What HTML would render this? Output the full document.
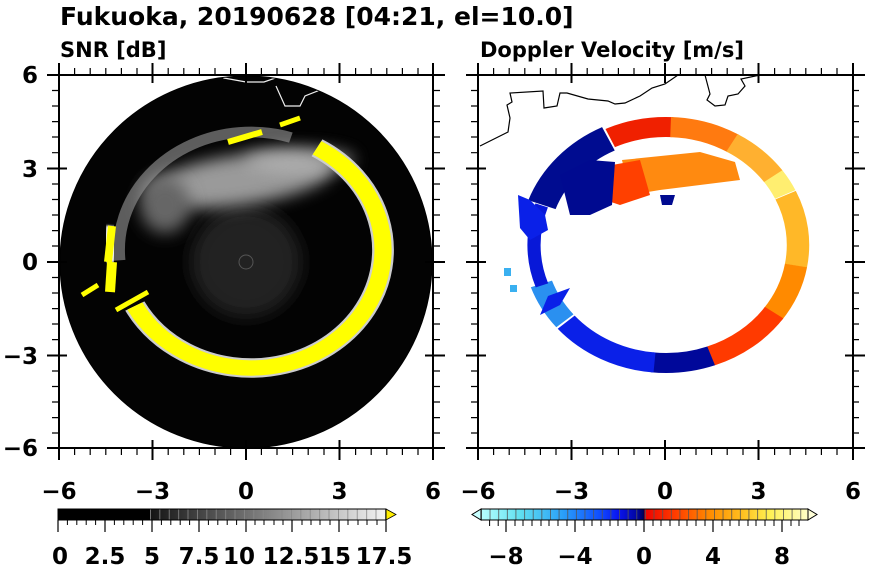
<!DOCTYPE html>
<html><head><meta charset="utf-8"><style>
html,body{margin:0;padding:0;background:#fff;}
svg{display:block;font-family:"DejaVu Sans","Liberation Sans",sans-serif;font-weight:bold;}
</style></head><body>
<svg width="870" height="570" viewBox="0 0 870 570" xmlns="http://www.w3.org/2000/svg">
<defs>
<clipPath id="cl"><circle cx="246" cy="262" r="186"/></clipPath>
<clipPath id="cr"><rect x="478" y="75" width="375" height="373"/></clipPath>
<filter id="b6" x="-100%" y="-200%" width="300%" height="500%"><feGaussianBlur stdDeviation="8"/></filter>
<filter id="b1" x="-50%" y="-50%" width="200%" height="200%"><feGaussianBlur stdDeviation="1"/></filter>
<linearGradient id="gs" x1="0" x2="1"><stop offset="0" stop-color="#141414"/><stop offset="1" stop-color="#f4f4f4"/></linearGradient>
<linearGradient id="gv" x1="0" x2="1">
<stop offset="0" stop-color="#b8ffff"/><stop offset="0.12" stop-color="#60e0f0"/><stop offset="0.25" stop-color="#2aa0f8"/><stop offset="0.36" stop-color="#1050ff"/><stop offset="0.42" stop-color="#0a14f0"/><stop offset="0.48" stop-color="#00049a"/><stop offset="0.5" stop-color="#000048"/>
<stop offset="0.5" stop-color="#ee0000"/><stop offset="0.6" stop-color="#ff4000"/><stop offset="0.7" stop-color="#ff8c00"/><stop offset="0.8" stop-color="#ffc020"/><stop offset="0.88" stop-color="#fff050"/><stop offset="1" stop-color="#ffffc8"/></linearGradient>
<pattern id="pl" x="150" y="0" width="9.4" height="20" patternUnits="userSpaceOnUse"><rect x="0" y="0" width="0.8" height="20" fill="#888"/></pattern>
<pattern id="pr" x="481" y="0" width="8.63" height="20" patternUnits="userSpaceOnUse"><rect x="0" y="0" width="0.8" height="20" fill="#555"/></pattern>
</defs>

<text x="60" y="25" font-size="25">Fukuoka, 20190628 [04:21, el=10.0]</text>
<text x="60" y="57" font-size="21">SNR [dB]</text>
<text x="480" y="57" font-size="21">Doppler Velocity [m/s]</text>

<!-- LEFT PANEL -->
<circle cx="246" cy="262" r="186" fill="#030303"/>
<g clip-path="url(#cl)">
<circle cx="246" cy="262" r="55" fill="#222" filter="url(#b6)"/>
<ellipse cx="240" cy="180" rx="95" ry="25" transform="rotate(-8 240 180)" fill="#9a9a9a" filter="url(#b6)"/>
<ellipse cx="165" cy="205" rx="25" ry="28" fill="#666" filter="url(#b6)"/>
<ellipse cx="300" cy="160" rx="55" ry="12" fill="#bbb" opacity="0.7" filter="url(#b6)"/>
<circle cx="246" cy="262" r="7" fill="none" stroke="#555" stroke-width="1"/>
<g transform="translate(251 250) scale(132 118)" fill="none">
<circle r="1" stroke="#999" stroke-width="0.09" opacity="0.6" pathLength="360" stroke-dasharray="125 400" transform="rotate(175)"/>
<circle r="1" stroke="#ccc" stroke-width="0.165" pathLength="360" stroke-dasharray="235 400" transform="rotate(-60)"/>
<circle r="1" stroke="#ffff00" stroke-width="0.13" pathLength="360" stroke-dasharray="235 400" transform="rotate(-60)"/>
</g>
<path d="M228 142 L262 132" stroke="#ff0" stroke-width="6"/>
<path d="M280 125 L300 118" stroke="#ff0" stroke-width="5"/>
<path d="M112 226 L108 262" stroke="#fff" stroke-width="12" filter="url(#b1)"/>
<path d="M112 226 L108 262" stroke="#ff0" stroke-width="8"/>
<path d="M112 262 L110 292" stroke="#ff0" stroke-width="10"/>
<path d="M116 310 L148 292" stroke="#ff0" stroke-width="5"/>
<path d="M98 285 L82 295" stroke="#ff0" stroke-width="5"/>
<path d="M160 58 L194 60 L196 77 L216 73 L224 78 L246 82 L264 82 L284 75 L294 64 L305 58 M276 86 L285 106 L300 106 L305 96 L320 90 L315 74" fill="none" stroke="#eee" stroke-width="1.2"/>
</g>
<circle cx="246" cy="262" r="186" fill="none" stroke="#000" stroke-width="1"/>

<!-- RIGHT PANEL -->
<g clip-path="url(#cr)">
<g transform="translate(666 245) scale(132 118)" fill="none" stroke-width="0.17">
<circle r="1" pathLength="360" stroke="#ffee70" stroke-dasharray="44 400" transform="rotate(-65)"/>
<circle r="1" pathLength="360" stroke="#ffb828" stroke-dasharray="39 400" transform="rotate(-25)"/>
<circle r="1" pathLength="360" stroke="#ff8a00" stroke-dasharray="29 400" transform="rotate(10)"/>
<circle r="1" pathLength="360" stroke="#ff3a00" stroke-dasharray="39 400" transform="rotate(35)"/>
<circle r="1" pathLength="360" stroke="#00089a" stroke-dasharray="29 400" transform="rotate(70)"/>
<circle r="1" pathLength="360" stroke="#0a20e8" stroke-dasharray="49 400" transform="rotate(95)"/>
<circle r="1" pathLength="360" stroke="#2a90f0" stroke-dasharray="23 400" transform="rotate(140)"/>
<circle r="1" pathLength="360" stroke="#0818d8" stroke-width="0.1" stroke-dasharray="44 400" transform="rotate(160)"/>
<circle r="1" pathLength="360" stroke="#000c90" stroke-width="0.22" stroke-dasharray="49 400" transform="rotate(200)"/>
<circle r="1" pathLength="360" stroke="#f02000" stroke-dasharray="31 400" transform="rotate(245)"/>
<circle r="1" pathLength="360" stroke="#ff7a10" stroke-dasharray="32 400" transform="rotate(272)"/>
<circle r="1" pathLength="360" stroke="#ffb030" stroke-dasharray="27 400" transform="rotate(300)"/>
</g>
<path d="M622 160 L700 152 L735 162 L740 180 L700 185 L660 190 L630 195 Z" fill="#ff8a10"/>
<path d="M612 165 L640 160 L650 195 L620 205 L605 200 Z" fill="#ff4000"/>
<path d="M560 175 L590 160 L615 162 L612 205 L590 215 L570 215 Z" fill="#000a90"/>
<path d="M660 195 L675 195 L672 205 L662 205 Z" fill="#000a90"/>
<path d="M518 195 L530 200 L545 215 L548 230 L530 240 L520 228 Z" fill="#0a20e8"/>
<path d="M548 296 L570 288 L560 305 L540 315 Z" fill="#0a20e8"/>
<rect x="504" y="268" width="7" height="8" fill="#3ab0f0"/>
<rect x="510" y="285" width="7" height="7" fill="#3ab0f0"/>
<path d="M480 146 L508 132 L510 118 L507 105 L512 102 L510 93 L543 91 L544 108 L557 106 L560 93 L567 93 L588 99 L608 101 L615 104 L625 103 L640 96 L652 88 L665 84 L678 75 M705 75 L710 94 L707 100 L715 106 L725 105 L728 96 L738 94 L745 86 L741 79 L760 75" fill="none" stroke="#000" stroke-width="1.2"/>
</g>

<!-- axes frames and ticks -->
<g stroke="#000" fill="none" stroke-width="2">
<rect x="59" y="75" width="374" height="373"/>
<rect x="478" y="75" width="375" height="373"/>
</g>
<g stroke="#000" stroke-width="1.2">
<path id="tl" d="
M59 75v-7M74.6 75v-7M90.2 75v-7M105.8 75v-7M121.4 75v-7M137 75v-7M168.2 75v-7M183.8 75v-7M199.4 75v-7M215 75v-7M230.6 75v-7M261.4 75v-7M277 75v-7M292.6 75v-7M308.2 75v-7M324 75v-7M355.6 75v-7M371.2 75v-7M386.8 75v-7M402.4 75v-7M418 75v-7
M59 448v7M74.6 448v7M90.2 448v7M105.8 448v7M121.4 448v7M137 448v7M168.2 448v7M183.8 448v7M199.4 448v7M215 448v7M230.6 448v7M261.4 448v7M277 448v7M292.6 448v7M308.2 448v7M324 448v7M355.6 448v7M371.2 448v7M386.8 448v7M402.4 448v7M418 448v7
M59 90.5h-7M59 106h-7M59 121.6h-7M59 137h-7M59 152.7h-7M59 184h-7M59 199.5h-7M59 215h-7M59 230.6h-7M59 246h-7M59 277.5h-7M59 293h-7M59 308.6h-7M59 324h-7M59 339.6h-7M59 371h-7M59 386.5h-7M59 402h-7M59 417.6h-7M59 433h-7
M433 90.5h7M433 106h7M433 121.6h7M433 137h7M433 152.7h7M433 184h7M433 199.5h7M433 215h7M433 230.6h7M433 246h7M433 277.5h7M433 293h7M433 308.6h7M433 324h7M433 339.6h7M433 371h7M433 386.5h7M433 402h7M433 417.6h7M433 433h7"/>
<use href="#tl" x="419"/>
</g>
<g stroke="#000" stroke-width="2">
<path d="M152.5 63v12M246 63v12M339.5 63v12M152.5 448v12M246 448v12M339.5 448v12M59 63v12M433 63v12M59 448v12M433 448v12
M47 75h12M47 168.5h12M47 262h12M47 355.5h12M47 448h12M433 75h12M433 168.5h12M433 262h12M433 355.5h12M433 448h12
M152.5 75v8M246 75v8M339.5 75v8M152.5 440v8M246 440v8M339.5 440v8M59 168.5h8M59 262h8M59 355.5h8M425 168.5h8M425 262h8M425 355.5h8"/>
<path transform="translate(419 0)" d="M152.5 63v12M246 63v12M339.5 63v12M152.5 448v12M246 448v12M339.5 448v12M59 63v12M434 63v12M59 448v12M434 448v12
M47 75h12M47 168.5h12M47 262h12M47 355.5h12M47 448h12M434 75h12M434 168.5h12M434 262h12M434 355.5h12M434 448h12
M152.5 75v8M246 75v8M339.5 75v8M152.5 440v8M246 440v8M339.5 440v8M59 168.5h8M59 262h8M59 355.5h8M426 168.5h8M426 262h8M426 355.5h8"/>
</g>

<g font-size="23" text-anchor="middle">
<text x="59" y="499">−6</text><text x="152.5" y="499">−3</text><text x="246" y="499">0</text><text x="339.5" y="499">3</text><text x="433" y="499">6</text>
<text x="478" y="499">−6</text><text x="571.5" y="499">−3</text><text x="665" y="499">0</text><text x="758.5" y="499">3</text><text x="853" y="499">6</text>
</g>
<g font-size="23" text-anchor="end">
<text x="38" y="83">6</text><text x="38" y="177">3</text><text x="38" y="270">0</text><text x="38" y="364">−3</text><text x="38" y="456">−6</text>
</g>

<!-- left colorbar -->
<rect x="58" y="509" width="92" height="11" fill="#000"/>
<rect x="150" y="509" width="236" height="11" fill="url(#gs)"/>
<rect x="150" y="509" width="236" height="11" fill="url(#pl)"/>
<path d="M386 509 L396 514.5 L386 520 Z" fill="#ffee00" stroke="#000" stroke-width="0.8"/>
<rect x="58" y="509" width="328" height="11" fill="none" stroke="#000" stroke-width="1"/>
<g stroke="#000" stroke-width="1.2">
<path d="M58 520v12M105 520v12M152 520v12M199 520v12M246 520v12M292 520v12M339 520v12M386 520v12"/>
<path stroke-width="1" d="M67.4 520v5M76.8 520v5M86.2 520v5M95.6 520v5M114.4 520v5M123.8 520v5M133.2 520v5M142.6 520v5M161.4 520v5M170.8 520v5M180.2 520v5M189.6 520v5M208.4 520v5M217.8 520v5M227.2 520v5M236.6 520v5M255 520v5M264 520v5M274 520v5M283 520v5M302 520v5M311 520v5M320 520v5M330 520v5M348 520v5M358 520v5M367 520v5M377 520v5"/>
</g>
<g font-size="23" text-anchor="middle">
<text x="60" y="564">0</text><text x="105" y="564">2.5</text><text x="152" y="564">5</text><text x="199" y="564">7.5</text><text x="239" y="564">10</text><text x="291" y="564">12.5</text><text x="335" y="564">15</text><text x="384" y="564">17.5</text>
</g>

<!-- right colorbar -->
<rect x="481" y="509" width="327" height="11" fill="url(#gv)"/>
<rect x="481" y="509" width="327" height="11" fill="url(#pr)"/>
<path d="M481 509 L472 514.5 L481 520 Z" fill="#c8ffff" stroke="#000" stroke-width="1"/>
<path d="M808 509 L817 514.5 L808 520 Z" fill="#ffffd8" stroke="#000" stroke-width="1"/>
<rect x="481" y="509" width="327" height="11" fill="none" stroke="#000" stroke-width="1"/>
<g stroke="#000" stroke-width="1.2">
<path d="M506 520v12M575 520v12M644 520v12M713 520v12M782 520v12"/>
<path stroke-width="1" d="M489.6 520v6M498.2 520v6M515 520v6M523 520v6M532 520v6M541 520v6M549 520v6M558 520v6M567 520v6M584 520v6M592 520v6M601 520v6M610 520v6M618 520v6M627 520v6M636 520v6M653 520v6M661 520v6M670 520v6M679 520v6M687 520v6M696 520v6M705 520v6M722 520v6M730 520v6M739 520v6M748 520v6M756 520v6M765 520v6M774 520v6M791 520v6M799 520v6"/>
</g>
<g font-size="23" text-anchor="middle">
<text x="506" y="564">−8</text><text x="575" y="564">−4</text><text x="644" y="564">0</text><text x="713" y="564">4</text><text x="782" y="564">8</text>
</g>
</svg>
</body></html>
